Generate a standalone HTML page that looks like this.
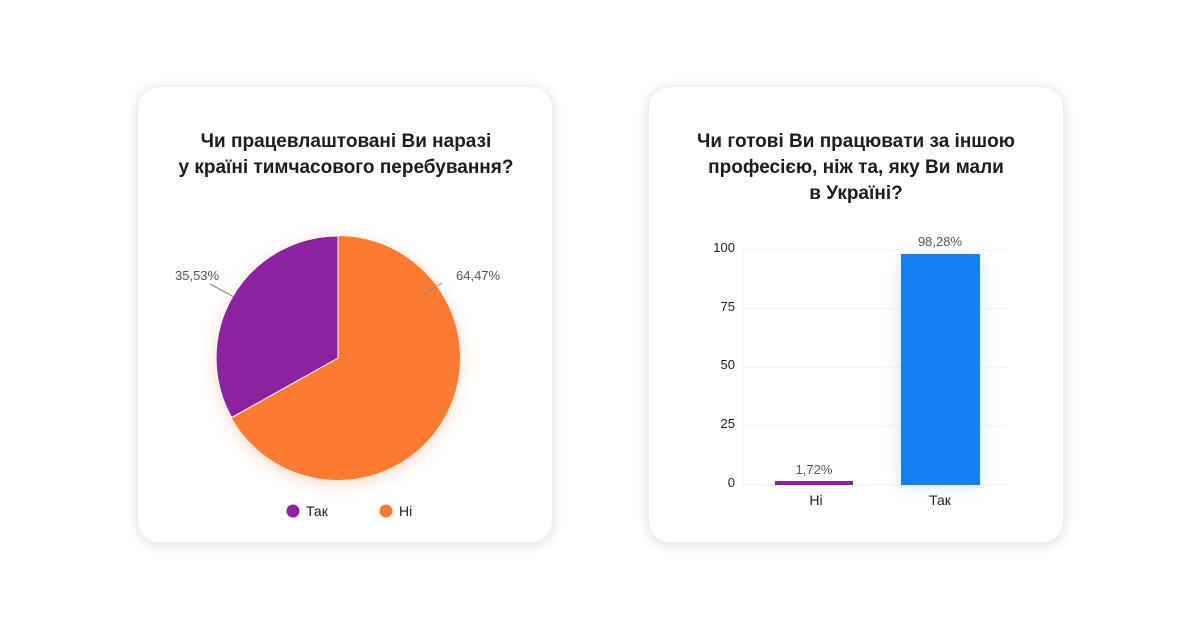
<!DOCTYPE html>
<html><head><meta charset="utf-8"><style>
body{margin:0;width:1200px;height:630px;background:#fff;font-family:"Liberation Sans","DejaVu Sans",sans-serif;position:relative;overflow:hidden}
.card{position:absolute;top:86px;width:416px;height:457px;background:#fff;border-radius:22px;box-shadow:0 2px 12px rgba(0,0,0,0.13);border:1px solid #eee;box-sizing:border-box}
.t{position:absolute;left:0;width:100%;text-align:center;font-weight:bold;font-size:19px;line-height:26px;color:#1d1d1d}
svg{position:absolute;left:0;top:0}
</style></head><body>
<div class="card" style="left:137px"><div class="t" style="top:128px;left:-137px;width:416px;top:42px;left:0">Чи працевлаштовані Ви наразі<br>у країні тимчасового перебування?</div></div>
<div class="card" style="left:648px"><div class="t" style="top:42px">Чи готові Ви працювати за іншою<br>професією, ніж та, яку Ви мали<br>в Україні?</div></div>
<svg width="1200" height="630">
<defs><filter id="g" x="-30%" y="-30%" width="160%" height="160%"><feGaussianBlur stdDeviation="8"/></filter></defs>
<circle cx="338" cy="362" r="122" fill="#fbd9c4" filter="url(#g)"/>
<path d="M338 358 L338 236 A122 122 0 1 1 231.6 417.6 Z" fill="#fd7b30"/>
<path d="M338 358 L231.6 417.6 A122 122 0 0 1 338 236 Z" fill="#8c229e" stroke="#fff" stroke-width="1"/>
<line x1="210" y1="284" x2="234" y2="297" stroke="#888"/>
<line x1="442" y1="283" x2="420" y2="297" stroke="#888"/>
<text x="175" y="280" font-size="13" fill="#555">35,53%</text>
<text x="456" y="280" font-size="13" fill="#555">64,47%</text>
<circle cx="293" cy="511" r="6.5" fill="#8c229e"/><text x="306" y="516" font-size="14" fill="#222">Так</text>
<circle cx="386" cy="511" r="6.5" fill="#fd7b30"/><text x="399" y="516" font-size="14" fill="#222">Ні</text>
<g stroke="#f0f0f0"><line x1="743" y1="250" x2="1008" y2="250"/><line x1="743" y1="309" x2="1008" y2="309"/><line x1="743" y1="367" x2="1008" y2="367"/><line x1="743" y1="426" x2="1008" y2="426"/><line x1="743" y1="485" x2="1008" y2="485"/><line x1="743" y1="250" x2="743" y2="485"/></g>
<g font-size="13" fill="#222" text-anchor="end"><text x="735" y="252">100</text><text x="735" y="311">75</text><text x="735" y="369">50</text><text x="735" y="428">25</text><text x="735" y="487">0</text></g>
<rect x="901" y="260" width="79" height="225" fill="#a9cdfb" filter="url(#g)" opacity="0.6"/>
<rect x="901" y="254" width="79" height="231" fill="#1680f2"/>
<rect x="775" y="481" width="78" height="4" fill="#8c229e"/>
<g font-size="13" fill="#555" text-anchor="middle"><text x="940" y="246">98,28%</text><text x="814" y="474">1,72%</text></g>
<g font-size="14" fill="#222" text-anchor="middle"><text x="816" y="505">Ні</text><text x="940" y="505">Так</text></g>
</svg>
</body></html>
